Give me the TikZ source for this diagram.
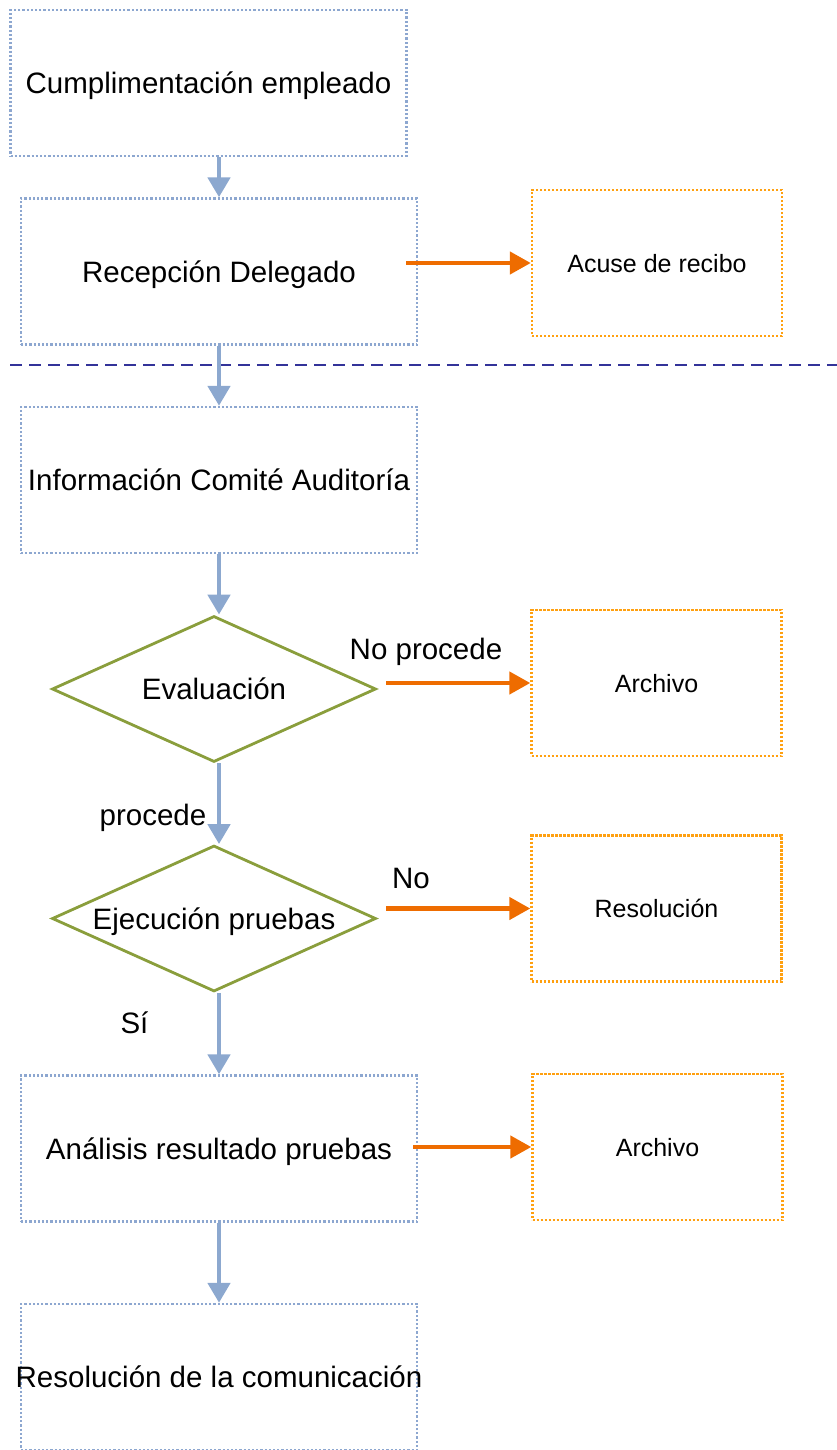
\documentclass[tikz,border=0pt]{standalone}
\usepackage{fontspec}
\setmainfont{Liberation Sans}
\usepackage{tikz}
\usetikzlibrary{arrows.meta,calc,shapes.geometric}
\definecolor{azulCaja}{HTML}{8DA7D0}
\definecolor{azulFlecha}{HTML}{8CA8CF}
\definecolor{naranjaFlecha}{HTML}{EE6C00}
\definecolor{naranjaCaja}{HTML}{FFA010}
\definecolor{verdeRombo}{HTML}{8A9E3C}
\definecolor{azulLinea}{HTML}{333399}

\begin{document}
\begin{tikzpicture}[x=1pt,y=-1pt,
  textoG/.style={font=\fontsize{29.5}{35}\selectfont,text height=21.2pt,text depth=0pt},
  textoP/.style={font=\fontsize{25}{30}\selectfont,text height=18pt,text depth=0pt},
  caja/.style={draw=azulCaja,line width=2.4pt,dash pattern=on 2.2pt off 2pt,
    minimum width=396pt,minimum height=146pt,inner sep=0pt,textoG},
  cajaNar/.style={draw=naranjaCaja,line width=2.4pt,dash pattern=on 2.2pt off 1.8pt,
    minimum width=250pt,minimum height=146pt,inner sep=0pt,textoP},
  rombo/.style={diamond,aspect=2.2,draw=verdeRombo,line width=2.8pt,
    minimum width=324pt,minimum height=146pt,inner sep=0pt,textoG},
  flechaAzul/.style={draw=azulFlecha,line width=4.8pt,-{Triangle[length=20pt,width=22pt]}},
  flechaNar/.style={draw=naranjaFlecha,line width=4.5pt,-{Triangle[length=21pt,width=22pt]}}]
\useasboundingbox (0,0) rectangle (837,1450);
% columna principal
\node[caja] (emp) at (208.5,83) {Cumplimentación empleado};
\node[caja] (rec) at (219,271.5) {Recepción Delegado};
\node[caja] (inf) at (219,480) {Información Comité Auditoría};
\node[rombo] (ev) at (214,689) {Evaluación};
\node[rombo] (ej) at (214,918.5) {Ejecución pruebas};
\node[caja] (ana) at (219,1148.5) {Análisis resultado pruebas};
\node[caja] (resc) at (219,1377) {};
\node[textoG] (tresc) at (resc) {Resolución de la comunicación};
% cajas de la derecha
\node[cajaNar] (acu) at (657,263) {Acuse de recibo};
\node[cajaNar] (arc1) at (656.5,683) {Archivo};
\node[cajaNar] (resol) at (656.5,908.5) {Resolución};
\node[cajaNar] (arc2) at (657.5,1147) {Archivo};
% linea de separacion
\draw[azulLinea,line width=2.7pt,dash pattern=on 12pt off 7pt] (10,365) -- (837,365);
% flechas verticales
\draw[flechaAzul] (rec.north |- emp.south) -- (rec.north);
\draw[flechaAzul] (rec) -- (inf);
\draw[flechaAzul] (inf.south) -- (inf.south |- ev.north);
\draw[flechaAzul] (inf.south |- ev.south) -- (inf.south |- ej.north);
\draw[flechaAzul] (ana.north |- ej.south) -- (ana.north);
\draw[flechaAzul] (ana) -- (resc);
% flechas hacia la derecha
\coordinate (o1) at ($(rec.east |- acu.west)+(-12,0)$);
\coordinate (o2) at ($(ev.east |- arc1.west)+(9,0)$);
\coordinate (o3) at ($(ej.east |- resol.west)+(9,0)$);
\coordinate (o4) at ($(ana.east |- arc2.west)+(-5,0)$);
\draw[flechaNar] (o1) -- (acu.west);
\draw[flechaNar] (o2) -- (arc1.west);
\draw[flechaNar] (o3) -- (resol.west);
\draw[flechaNar] (o4) -- (arc2.west);
% etiquetas
\node[textoG,anchor=base] (lnp) at (426,659) {No procede};
\node[textoG,anchor=base] (lp) at (153,825) {procede};
\node[textoG,anchor=base] (lno) at (411,888) {No};
\node[textoG,anchor=base] (lsi) at (134.5,1033) {Sí};
\end{tikzpicture}
\end{document}
